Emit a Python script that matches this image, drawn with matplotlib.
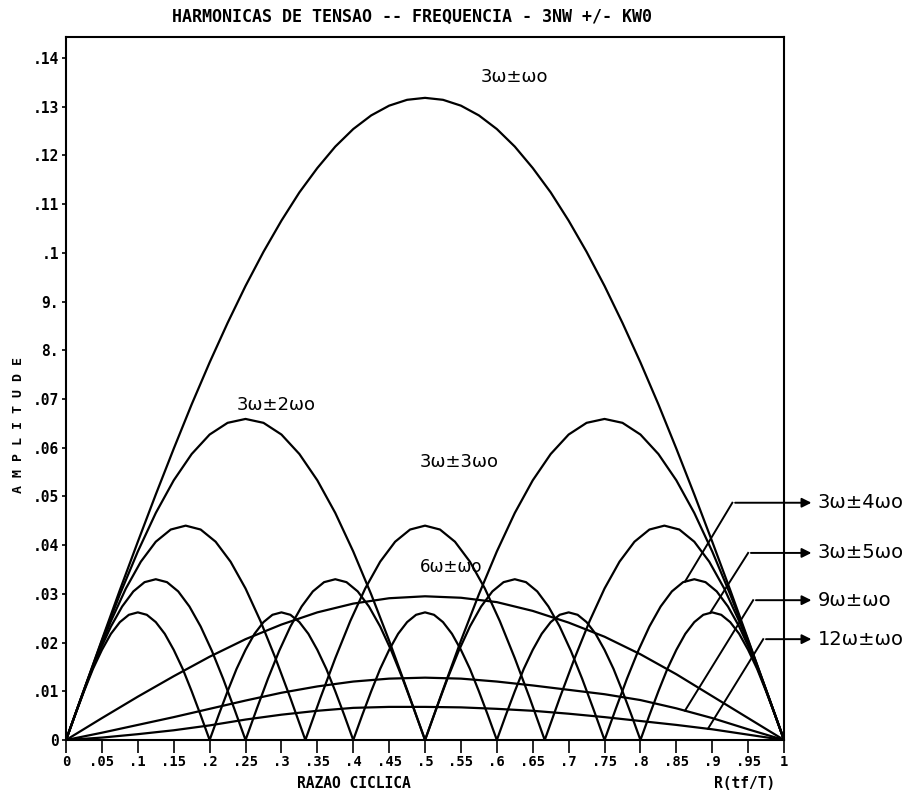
import numpy as np
import matplotlib
matplotlib.use("Agg")
import matplotlib.pyplot as plt

# amplitudes, one list per harmonic, evenly spaced over R = 0..1
# 3w+-w0 and 3w+-2w0 every .025, 3w+-3w0 every 1/48, 3w+-4w0 every 1/64,
# 3w+-5w0 every 1/80, the 6/9/12 curves every .05
h_3w_1w0 = [0, .0103, .0206, .0308, .0407, .0504, .0598, .0689, .0775, .0856, .0932,
            .1002, .1066, .1124, .1174, .1218, .1254, .1282, .1302, .1314, .1318,
            .1314, .1302, .1282, .1254, .1218, .1174, .1124, .1066, .1002, .0932,
            .0856, .0775, .0689, .0598, .0504, .0407, .0308, .0206, .0103, 0]
h_3w_2w0 = [0, .0103, .0204, .0299, .0387, .0466, .0533, .0587, .0627, .0651, .0659,
            .0651, .0627, .0587, .0533, .0466, .0387, .0299, .0204, .0103, 0,
            .0103, .0204, .0299, .0387, .0466, .0533, .0587, .0627, .0651, .0659,
            .0651, .0627, .0587, .0533, .0466, .0387, .0299, .0204, .0103, 0]
h_3w_3w0 = [0, .0086, .0168, .0244, .0311, .0366, .0407, .0432, .0440,
            .0432, .0407, .0366, .0311, .0244, .0168, .0086, 0,
            .0086, .0168, .0244, .0311, .0366, .0407, .0432, .0440,
            .0432, .0407, .0366, .0311, .0244, .0168, .0086, 0,
            .0086, .0168, .0244, .0311, .0366, .0407, .0432, .0440,
            .0432, .0407, .0366, .0311, .0244, .0168, .0086, 0]
h_3w_4w0 = [0, .0064, .0126, .0183, .0233, .0274, .0305, .0324, .0330,
            .0324, .0305, .0274, .0233, .0183, .0126, .0064, 0,
            .0064, .0126, .0183, .0233, .0274, .0305, .0324, .0330,
            .0324, .0305, .0274, .0233, .0183, .0126, .0064, 0,
            .0064, .0126, .0183, .0233, .0274, .0305, .0324, .0330,
            .0324, .0305, .0274, .0233, .0183, .0126, .0064, 0,
            .0064, .0126, .0183, .0233, .0274, .0305, .0324, .0330,
            .0324, .0305, .0274, .0233, .0183, .0126, .0064, 0]
h_3w_5w0 = [0, .0051, .0100, .0146, .0185, .0218, .0242, .0257, .0262,
            .0257, .0242, .0218, .0185, .0146, .0100, .0051, 0,
            .0051, .0100, .0146, .0185, .0218, .0242, .0257, .0262,
            .0257, .0242, .0218, .0185, .0146, .0100, .0051, 0,
            .0051, .0100, .0146, .0185, .0218, .0242, .0257, .0262,
            .0257, .0242, .0218, .0185, .0146, .0100, .0051, 0,
            .0051, .0100, .0146, .0185, .0218, .0242, .0257, .0262,
            .0257, .0242, .0218, .0185, .0146, .0100, .0051, 0,
            .0051, .0100, .0146, .0185, .0218, .0242, .0257, .0262,
            .0257, .0242, .0218, .0185, .0146, .0100, .0051, 0]
h_6w_1w0 = [0, .0045, .0089, .0131, .0171, .0207, .0237, .0262, .0280, .0291, .0295,
            .0292, .0283, .0265, .0241, .0212, .0176, .0135, .0090, .0045, 0]
h_9w_1w0 = [0, .0015, .0031, .0047, .0064, .0081, .0097, .0110, .0120, .0126, .0128,
            .0126, .0120, .0112, .0103, .0094, .0082, .0065, .0045, .0022, 0]
h_12w_1w0 = [0, .0005, .0012, .0020, .0030, .0042, .0052, .0060, .0066, .0068, .0068,
             .0067, .0064, .0060, .0054, .0047, .0039, .0031, .0022, .0011, 0]

xticks = [round(0.05 * i, 2) for i in range(21)]
xlabels = ["0", ".05", ".1", ".15", ".2", ".25", ".3", ".35", ".4", ".45", ".5",
           ".55", ".6", ".65", ".7", ".75", ".8", ".85", ".9", ".95", "1"]
yticks = [round(0.01 * i, 2) for i in range(15)]
ylabels = ["0", ".01", ".02", ".03", ".04", ".05", ".06", ".07", "8.", "9.",
           ".1", ".11", ".12", ".13", ".14"]

def grid(vals):
    return np.linspace(0, 1, len(vals))

mono = "DejaVu Sans Mono"
hand = "DejaVu Sans"

fig = plt.figure(figsize=(9.21, 8.07), dpi=100)
ax = fig.add_axes([0.0717, 0.0830, 0.7796, 0.8712])

for vals in [h_3w_1w0, h_3w_2w0, h_3w_3w0, h_3w_4w0, h_3w_5w0, h_6w_1w0, h_9w_1w0, h_12w_1w0]:
    ax.plot(grid(vals), vals, color="black", lw=1.6, solid_joinstyle="round")

ax.set_xlim(0, 1)
ax.set_ylim(0, 0.1443)
ax.set_xticks(xticks)
ax.set_xticklabels(xlabels, fontfamily=mono, fontweight="bold", fontsize=10)
ax.set_yticks(yticks)
ax.set_yticklabels(ylabels, fontfamily=mono, fontweight="bold", fontsize=10.5)
ax.tick_params(axis="x", direction="out", length=9, width=1.2, pad=2)
ax.tick_params(axis="y", direction="out", length=3, width=1.2, pad=2)
for s in ax.spines.values():
    s.set_linewidth(1.5)

# curve labels (hand written in the original)
ax.text(0.577, 0.136, "3ω±ωo", fontfamily=hand, fontsize=13, va="center")
ax.text(0.237, 0.0688, "3ω±2ωo", fontfamily=hand, fontsize=13, va="center")
ax.text(0.493, 0.0571, "3ω±3ωo", fontfamily=hand, fontsize=13, va="center")
ax.text(0.493, 0.0355, "6ω±ωo", fontfamily=hand, fontsize=12, va="center")

# arrows to the labels on the right
arrows = [(h_3w_4w0, 0.862, 0.928, 0.0487, "3ω±4ωo"),
          (h_3w_5w0, 0.897, 0.950, 0.0384, "3ω±5ωo"),
          (h_9w_1w0, 0.862, 0.957, 0.0287, "9ω±ωo"),
          (h_12w_1w0, 0.894, 0.971, 0.0207, "12ω±ωo")]
for vals, sx, kx, ky, lab in arrows:
    sy = np.interp(sx, grid(vals), vals)
    ax.plot([sx, kx], [sy, ky], color="black", lw=1.4, clip_on=False)
    ax.annotate("", xy=(1.042, ky), xytext=(kx, ky),
                arrowprops=dict(arrowstyle="-|>", color="black", lw=1.4, mutation_scale=14),
                annotation_clip=False)
    ax.text(1.047, ky, lab, fontfamily=hand, fontsize=14, va="center", clip_on=False)

fig.text(412 / 921, 1 - 17 / 807, "HARMONICAS DE TENSAO -- FREQUENCIA - 3NW +/- KW0",
         fontfamily=mono, fontweight="bold", fontsize=12, ha="center", va="center")
fig.text(354 / 921, 1 - 784 / 807, "RAZAO CICLICA", fontfamily=mono, fontweight="bold",
         fontsize=10.5, ha="center", va="center")
fig.text(745 / 921, 1 - 784 / 807, "R(tf/T)", fontfamily=mono, fontweight="bold",
         fontsize=10.5, ha="center", va="center")
fig.text(19 / 921, 1 - 425 / 807, "A M P L I T U D E", fontfamily=mono, fontweight="bold",
         fontsize=9.5, ha="center", va="center", rotation=90)

fig.savefig("out.png", dpi=100)
